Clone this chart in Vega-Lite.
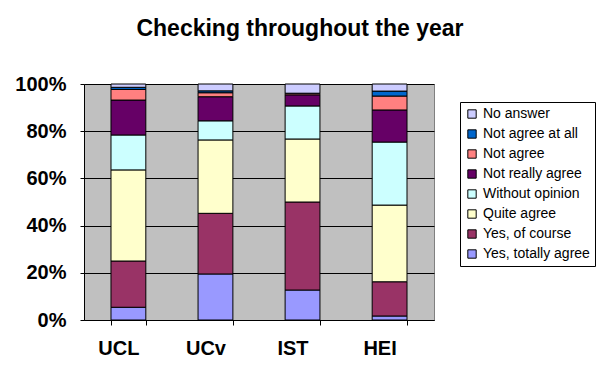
{
  "$schema": "https://vega.github.io/schema/vega-lite/v6.json",
  "autosize": "none",
  "width": 350,
  "height": 236,
  "padding": {"left": 84, "top": 84, "right": 171, "bottom": 56},
  "background": "white",
  "title": {
    "text": "Checking throughout the year",
    "font": "Liberation Sans",
    "fontSize": 23,
    "fontWeight": "bold",
    "color": "black",
    "anchor": "middle",
    "frame": "group",
    "dx": 41,
    "offset": 33
  },
  "config": {
    "view": {"fill": "#C0C0C0", "stroke": "#808080"},
    "font": "Liberation Sans"
  },
  "data": {
    "values": [
      {"school": "UCL", "answer": "Yes, totally agree", "k": 1, "pct": 5.4},
      {"school": "UCL", "answer": "Yes, of course", "k": 2, "pct": 19.6},
      {"school": "UCL", "answer": "Quite agree", "k": 3, "pct": 38.6},
      {"school": "UCL", "answer": "Without opinion", "k": 4, "pct": 14.8},
      {"school": "UCL", "answer": "Not really agree", "k": 5, "pct": 14.8},
      {"school": "UCL", "answer": "Not agree", "k": 6, "pct": 4.5},
      {"school": "UCL", "answer": "Not agree at all", "k": 7, "pct": 0.9},
      {"school": "UCL", "answer": "No answer", "k": 8, "pct": 1.4},
      {"school": "UCv", "answer": "Yes, totally agree", "k": 1, "pct": 19.5},
      {"school": "UCv", "answer": "Yes, of course", "k": 2, "pct": 25.7},
      {"school": "UCv", "answer": "Quite agree", "k": 3, "pct": 31.1},
      {"school": "UCv", "answer": "Without opinion", "k": 4, "pct": 8.1},
      {"school": "UCv", "answer": "Not really agree", "k": 5, "pct": 10.2},
      {"school": "UCv", "answer": "Not agree", "k": 6, "pct": 1.7},
      {"school": "UCv", "answer": "Not agree at all", "k": 7, "pct": 0.8},
      {"school": "UCv", "answer": "No answer", "k": 8, "pct": 2.9},
      {"school": "IST", "answer": "Yes, totally agree", "k": 1, "pct": 12.7},
      {"school": "IST", "answer": "Yes, of course", "k": 2, "pct": 37.3},
      {"school": "IST", "answer": "Quite agree", "k": 3, "pct": 26.7},
      {"school": "IST", "answer": "Without opinion", "k": 4, "pct": 14.0},
      {"school": "IST", "answer": "Not really agree", "k": 5, "pct": 4.7},
      {"school": "IST", "answer": "Not agree", "k": 6, "pct": 0.7},
      {"school": "IST", "answer": "Not agree at all", "k": 7, "pct": 0.0},
      {"school": "IST", "answer": "No answer", "k": 8, "pct": 3.9},
      {"school": "HEI", "answer": "Yes, totally agree", "k": 1, "pct": 1.7},
      {"school": "HEI", "answer": "Yes, of course", "k": 2, "pct": 14.5},
      {"school": "HEI", "answer": "Quite agree", "k": 3, "pct": 32.5},
      {"school": "HEI", "answer": "Without opinion", "k": 4, "pct": 26.7},
      {"school": "HEI", "answer": "Not really agree", "k": 5, "pct": 13.6},
      {"school": "HEI", "answer": "Not agree", "k": 6, "pct": 5.9},
      {"school": "HEI", "answer": "Not agree at all", "k": 7, "pct": 2.1},
      {"school": "HEI", "answer": "No answer", "k": 8, "pct": 3.0}
    ]
  },
  "mark": {"type": "bar", "stroke": "black", "strokeWidth": 1},
  "encoding": {
    "x": {
      "field": "school",
      "type": "nominal",
      "sort": ["UCL", "UCv", "IST", "HEI"],
      "scale": {"paddingInner": 0.6, "paddingOuter": 0.31},
      "axis": {
        "title": null,
        "labelAngle": 0,
        "labelFont": "Liberation Sans",
        "labelFontSize": 20,
        "labelFontWeight": "bold",
        "labelColor": "black",
        "labelPadding": 13,
        "labelOffset": -10,
        "domainColor": "black",
        "tickColor": "black",
        "tickBand": "extent",
        "tickOffset": -10,
        "tickSize": 5
      }
    },
    "y": {
      "field": "pct",
      "type": "quantitative",
      "stack": "normalize",
      "scale": {"domain": [0, 1]},
      "axis": {
        "title": null,
        "values": [0, 0.2, 0.4, 0.6, 0.8, 1],
        "format": ".0%",
        "labelFont": "Liberation Sans",
        "labelFontSize": 20,
        "labelFontWeight": "bold",
        "labelColor": "black",
        "labelPadding": 14,
        "domainColor": "black",
        "tickColor": "black",
        "tickSize": 4,
        "grid": true,
        "gridColor": "black",
        "gridWidth": 1
      }
    },
    "order": {"field": "k", "type": "quantitative", "sort": "ascending"},
    "color": {
      "field": "answer",
      "type": "nominal",
      "scale": {
        "domain": ["No answer", "Not agree at all", "Not agree", "Not really agree", "Without opinion", "Quite agree", "Yes, of course", "Yes, totally agree"],
        "range": ["#CCCCFF", "#0066CC", "#FF8080", "#660066", "#CCFFFF", "#FFFFCC", "#993366", "#9999FF"]
      },
      "legend": {
        "title": null,
        "orient": "none",
        "legendX": 376,
        "legendY": 18,
        "fillColor": "white",
        "strokeColor": "black",
        "padding": 5,
        "symbolType": "square",
        "symbolSize": 70,
        "symbolStrokeColor": "black",
        "symbolStrokeWidth": 1,
        "labelFont": "Liberation Sans",
        "labelFontSize": 14,
        "labelColor": "black",
        "rowPadding": 6,
        "labelLimit": 200
      }
    }
  }
}
